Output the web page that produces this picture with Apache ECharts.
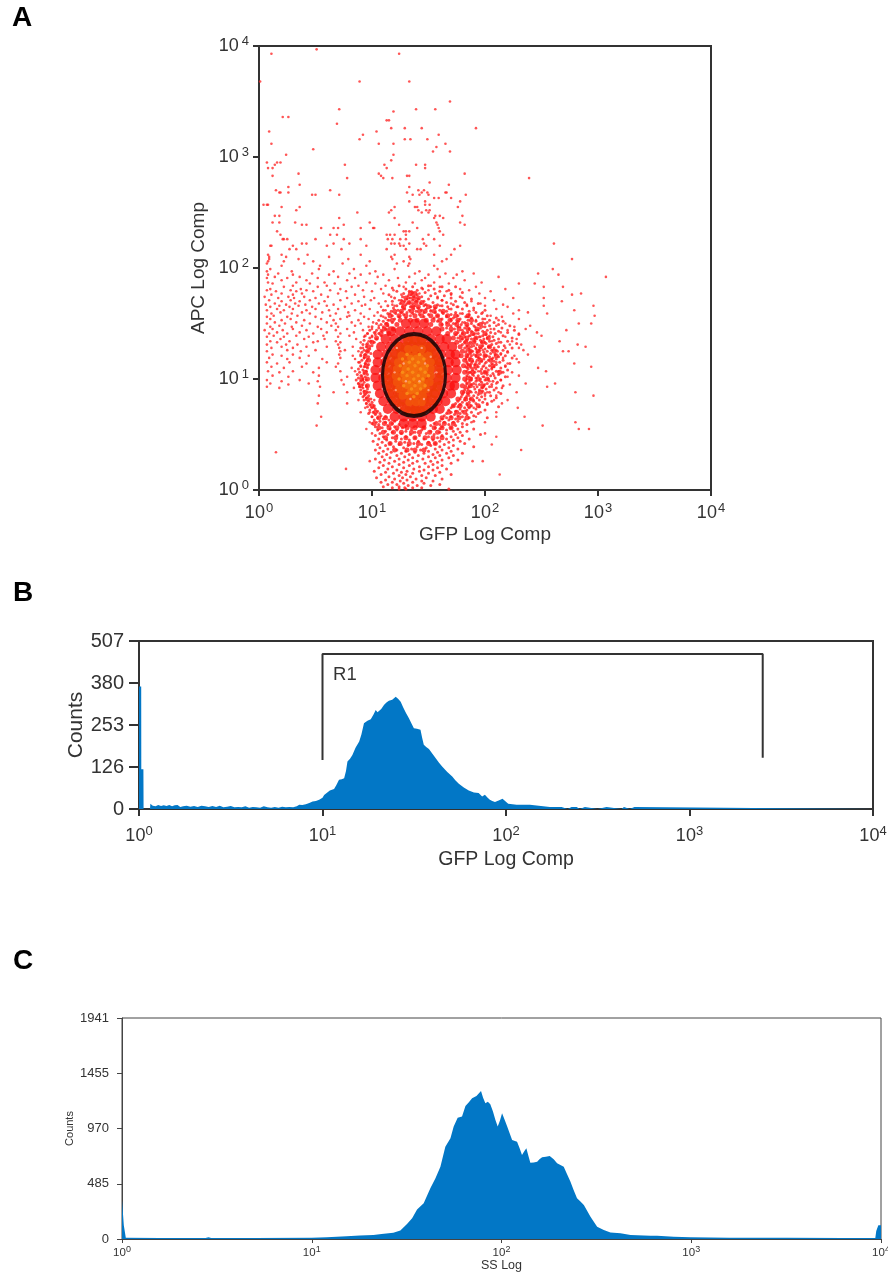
<!DOCTYPE html>
<html>
<head>
<meta charset="utf-8">
<title>Flow cytometry panels</title>
<script src="https://cdn.jsdelivr.net/npm/echarts@6/dist/echarts.min.js"></script>
<style>
  html, body { margin: 0; padding: 0; background: #fff; }
  #chart { width: 888px; height: 1272px; }
</style>
</head>
<body>
<div id="chart"></div>
<script>
// all positions below are in decades (log10 of the value)
const yTicksB = [0, 126, 253, 380, 507];
const yTicksC = [0, 485, 970, 1455, 1941];

// panel A: [APC decade, [GFP decades...]]
const sparseRows = [
  [3.97,[.51]],[3.93,[.11,1.24]],[3.68,[.01,.89,1.33]],[3.5,[1.69]],[3.43,[.71,1.39,1.56]],[3.41,[1.19]],
  [3.36,[.21,.26]],[3.33,[1.13,1.15]],[3.3,[.69]],[3.26,[1.29,1.44,1.17,1.92]],[3.23,[.09,1.04]],
  [3.2,[.92,1.59]],[3.16,[1.29,1.34,.89,1.49]],[3.12,[.11,1.06,1.19,1.65]],[3.09,[1.57]],[3.07,[.48]],
  [3.05,[1.54,1.69]],[3.02,[.24,1.19]],[2.97,[1.17]],[2.95,[.07,.19,.16]],[2.93,[.14,.76,1.47,1.11,1.39]],
  [2.9,[.08,1.47,1.13,.12]],[2.85,[.35,1.06,1.82]],[2.83,[.12,1.31,1.33,1.08]],[2.81,[.78,1.10,1.18,2.39]],
  [2.77,[1.51]],[2.75,[.36,1.68]],[2.73,[.26,1.33]],[2.7,[.15,.63,1.41,1.46]],
  [2.68,[.18,.19,.26,1.31,1.44,1.49,1.65,1.66]],[2.66,[.47,.5,.71,1.36,1.42,1.5,1.83]],[2.63,[1.55,1.59,1.7]],
  [2.6,[1.33,1.47,1.78]],[2.57,[.04,.07,.08,1.47,1.51]],[2.55,[.36,.2,1.2,1.4,1.38,1.76]],
  [2.52,[.33,1.17,1.41,1.51,1.48]],[2.5,[.87,1.15,1.44,1.5]],[2.47,[.18,.14,1.56,1.6,1.8]],
  [2.45,[.71,1.2,1.63,1.55]],[2.41,[.12,.18,.32,.98,1.36,1.57,1.78]],[2.39,[.38,.42,.75,1.24,1.58,1.82]],
  [2.36,[1.01,1.02,.9,.7,.55,.66,1.4,1.59]],[2.33,[1.28,1.3,1.33,1.6,.16]],
  [2.3,[.63,.19,.69,1.2,1.13,1.16,1.3,1.5,1.63]],[2.26,[.21,.22,.25,.5,.75,.9,1.14,1.18,1.25,1.3,1.45,1.55]],
  [2.22,[.38,.42,.66,.8,1.17,1.2,1.24,1.33,1.46,2.61]],[2.2,[.1,.11,.3,.6,.95,1.25,1.28,1.48,1.6,1.78]],
  [2.17,[.27,.33,.73,1.13,1.3,1.4,1.43,1.73]],[2.12,[.08,.2,.43,.9,1.2,1.55,1.7]],
  [2.1,[.09,.24,.62,1.17,1.33]],[2.08,[.09,.35,.79,1.18,1.34,1.66,2.77]],[2.06,[.08,.22,.48,.98,1.28,1.62]],
  [2.04,[.07,.4,.74,1.22,1.33]],[2.02,[.2,.54,.95,1.32,1.55]],[1.99,[.1,.53,.84,1.2,1.58,2.6]],
  [1.97,[.07,.29,.66,1.03,1.42,1.8]],[1.95,[.17,.47,.8,.98,1.38,1.65,1.9,2.47]],[1.94,[.08,.3,.62,.9,1.1,1.5,1.75,2.65]],
  [1.92,[.14,.36,.7,1.05,1.33,1.6,2.12,3.07]],[1.91,[.07,.25,.52,.85,1.23,1.47,1.72]],[1.89,[.2,.42,.78,1.15,1.44,1.82]],
  [1.87,[.08,.33,.58,.95,1.3,1.55,1.97]],[1.86,[.12,.45,.67,1.03,1.38,1.68,2.3,2.44]],[1.84,[.3,.6,.88,1.12,1.52]],
  [1.83,[.22,.52,.82,1.28,1.6,1.92,2.52,2.69]],[1.81,[.1,.37,.72,1.08,1.45,1.78,2.18]],
  [1.8,[.07,.28,.42,.63,.92,1.19,1.5,1.86]],[1.79,[.15,.33,.48,.77,1.0,1.35,1.66,2.05]],
  [1.77,[.2,.38,.7,1.1,1.42,1.95,2.85]],[1.76,[.11,.3,.55,.85,1.26,1.7,2.77]],
  [1.74,[.05,.26,.4,.61,.93,1.17,1.58]],[1.73,[.17,.31,.5,.78,1.02,1.33,1.8,2.0,2.25,2.52]],
  [1.71,[.09,.28,.45,.72,.99,1.24,1.62,2.08]],[1.7,[.2,.36,.58,.88,1.12,1.4,1.88,2.68]],
  [1.68,[.14,.32,.53,.82,1.06,1.31,1.7,1.96]],[1.67,[.06,.24,.41,.66,.94,1.18,1.47,1.84,2.16]],
  [1.66,[.18,.35,.6,.91,1.2,1.6,2.0,2.52,2.96]],[1.65,[.1,.27,.47,.76,1.08,1.36,1.75,2.2]],
  [1.63,[.16,.3,.5,.7,.98,1.28,1.68,2.1]],[1.62,[.07,.22,.42,.62,.85,1.12,1.52,1.9,2.3,2.79]],
  [1.6,[.19,.38,.56,.79,1.05,1.62,1.98,2.38]],[1.59,[.11,.29,.45,.68,.9,1.16,1.78,2.25,2.55]],
  [1.57,[.13,.34,.63,.8,1.02,1.66,2.05,2.97]],[1.56,[.07,.25,.5,.78,.93,1.1,1.85,2.15]],
  [1.54,[.1,.28,.55,.72,.97,1.7,2.0,2.3]],[1.53,[.2,.4,.66,.88,1.14,1.92,2.12]],
  [1.51,[.14,.33,.6,.82,1.01,1.8,2.02]],[1.5,[.07,.23,.45,.68,.9,1.12,1.74,2.18,2.83,2.94]],
  [1.48,[.18,.38,.64,.85,1.06,1.9,2.1,2.4]],[1.47,[.1,.29,.52,.7,.97,1.78,1.98,2.26]],
  [1.45,[.12,.3,.55,.78,1.0,1.86,2.05,2.36]],[1.44,[.05,.21,.42,.68,.92,1.08,1.94,2.2,2.72]],
  [1.42,[.16,.36,.6,.84,1.03,1.85,2.14,2.46]],[1.41,[.09,.25,.48,.72,.96,1.92,2.3]],
  [1.39,[.13,.33,.57,.8,1.0,1.87,2.04,2.5]],[1.38,[.07,.22,.44,.7,.93,1.96,2.18]],
  [1.36,[.19,.4,.58,.86,1.9,2.28]],[1.34,[.1,.27,.52,.68,.97,2.06,2.24,2.66]],
  [1.33,[.16,.48,.72,.9,2.0,2.12]],[1.31,[.07,.24,.34,.7,.95,1.88,2.22,2.32,2.82]],
  [1.29,[.2,.42,.6,.83,2.04,2.44,2.89]],[1.28,[.11,.3,.71,.92,1.92,2.18,2.3]],
  [1.26,[.25,.5,.76,1.98,2.1,2.34]],[1.25,[.07,.37,.72,.88,1.87,2.2,2.69,2.74]],
  [1.22,[.12,.3,.71,.9,1.9,2.14,2.38]],[1.21,[.2,.44,.83,2.02,2.26]],[1.19,[.09,.36,.72,.93,1.94,2.16]],
  [1.18,[.25,.56,.85,1.86,2.06,2.28]],[1.15,[.07,.27,.6,.88,1.92,2.1,2.3]],[1.14,[.16,.42,.7,.94,1.84,2.0,2.2,2.79]],
  [1.11,[.11,.38,.68,.9,1.98,2.18,2.94]],[1.1,[.22,.53,.82,1.84,1.9,2.06,2.47]],[1.07,[.08,.3,.72,.85,1.94,2.12,2.54]],
  [1.06,[.18,.48,1.86,2.02,2.24]],[1.03,[.12,.53,.9,1.9,2.08,2.3]],[1.02,[.26,.78,1.84,1.98,2.2]],
  [.99,[.07,.36,.73,.92,1.88,2.14]],[.98,[.2,.52,1.96,2.04]],[.96,[.1,.44,.88,1.84,2.1,2.36,2.62]],
  [.95,[.26,.75,1.92,2.0,2.22]],[.93,[.07,.54,.95,1.9,2.06,2.55]],[.92,[.18,.84,1.84,1.98,2.15]],
  [.88,[.66,.78,.98,1.88,2.02,2.12,2.28,2.8]],[.85,[.53,.93,1.86,2.0,2.1,2.96]],[.81,[.88,1.02,1.9,2.08,2.2]],
  [.78,[.52,.78,.95,1.84,2.02,2.15]],[.74,[.94,1.02,1.9,2.29]],[.7,[.9,.98,1.96,2.1]],[.66,[.55,1.0,1.92,2.1,2.35]],
  [.61,[.98,1.04,1.88,2.0,2.8]],[.58,[.51,2.51]],[.55,[.95,2.83,2.92]],[.51,[1.0,2.0]],[.48,[2.1]],[.41,[2.06]],
  [.36,[2.32]],[.34,[.15]],[.26,[.98,1.89,1.98]],[.19,[.77]],[.14,[2.13]]
];

// small dots round the gate, too many to see one by one in the middle
const speckRows = [
  [1.84,[1.24,1.5]],[1.83,[1.36,1.62,1.74]],[1.82,[1.18,1.44]],[1.81,[1.3,1.55]],[1.8,[1.4,1.68]],
  [1.79,[1.22,1.33,1.6]],[1.78,[1.36,1.47,1.8]],[1.77,[1.28,1.56,1.7]],[1.76,[1.15,1.4,1.35]],[1.75,[1.32,1.52,1.64]],
  [1.74,[1.27,1.37,1.44,1.78]],[1.73,[1.2,1.34,1.58,1.7]],[1.72,[1.31,1.41,1.5,1.88]],[1.71,[1.36,1.26,1.62]],
  [1.7,[1.18,1.29,1.39,1.46,1.74]],[1.69,[1.33,1.54,1.66,1.82]],[1.68,[1.25,1.36,1.43,1.94]],[1.67,[1.3,1.48,1.58,1.72]],
  [1.66,[1.14,1.22,1.38,1.46,1.62,1.84]],[1.65,[1.27,1.34,1.52,1.67,1.76]],[1.64,[1.19,1.41,1.56,1.9]],
  [1.63,[1.29,1.37,1.48,1.7,1.8]],[1.62,[1.1,1.23,1.33,1.44,1.6,2.0]],[1.61,[1.17,1.39,1.52,1.66,1.86]],
  [1.6,[1.26,1.31,1.46,1.56,1.74,1.92]],[1.59,[1.14,1.21,1.36,1.63,1.8,1.97]],[1.58,[1.28,1.42,1.5,1.7,1.86]],
  [1.57,[1.08,1.18,1.34,1.58,1.76,2.02]],[1.56,[1.24,1.46,1.66,1.83,1.94]],[1.55,[1.12,1.3,1.55,1.72,1.88,2.1]],
  [1.54,[1.2,1.62,1.78,1.98]],[1.53,[1.06,1.15,1.7,1.85,2.04]],[1.52,[1.1,1.58,1.76,1.92,2.16]],
  [1.51,[1.18,1.66,1.82,1.98,2.08]],[1.5,[1.04,1.13,1.72,1.88,2.0]],[1.49,[1.08,1.62,1.79,1.94,2.12]],
  [1.48,[1.14,1.7,1.84,2.04,2.22]],[1.47,[1.0,1.1,1.76,1.91,2.0]],[1.46,[1.06,1.66,1.82,1.96,2.15]],
  [1.45,[1.12,1.73,1.86,2.08]],[1.44,[.98,1.04,1.8,1.92,2.02,2.26]],[1.43,[1.09,1.7,1.88,1.98,2.12]],
  [1.42,[1.02,1.76,1.84,2.05,2.2]],[1.41,[.96,1.06,1.8,1.94,2.09]],[1.4,[1.03,1.74,1.9,2.01,2.3]],
  [1.39,[.94,1.08,1.78,1.86,1.98,2.16]],[1.38,[1.0,1.82,1.95,2.07]],[1.37,[.98,1.76,1.92,2.02,2.24]],
  [1.36,[1.04,1.8,1.88,1.99,2.12]],[1.35,[.93,1.84,1.96,2.08]],[1.34,[.99,1.78,1.91,2.04,2.2]],
  [1.33,[1.02,1.82,1.87,1.97,2.14]],[1.32,[.96,1.86,2.01,2.1,2.28]],[1.31,[.92,1.8,1.93,2.06]],
  [1.3,[1.0,1.84,1.9,1.98,2.17]],[1.29,[.95,1.88,2.03,2.12]],[1.28,[.9,1.82,1.96,2.08,2.24]],
  [1.27,[.98,1.86,1.92,2.0]],[1.26,[.93,1.84,1.95,2.06,2.16]],[1.25,[.96,1.89,2.02,2.11]],
  [1.24,[.91,1.83,1.93,1.99,2.2]],[1.23,[.99,1.87,2.05,2.14]],[1.22,[.94,1.85,1.96,2.09]],
  [1.21,[.9,1.88,1.92,2.0,2.18]],[1.2,[.97,1.84,2.04,2.12]],[1.19,[.93,1.87,1.95,2.07,2.24]],
  [1.18,[.96,1.83,1.99,2.1]],[1.17,[.91,1.86,1.93,2.03,2.16]],[1.16,[.95,1.89,1.97,2.08]],
  [1.15,[.89,1.84,2.01,2.13]],[1.14,[.94,1.88,1.95,2.06,2.22]],[1.13,[.97,1.85,1.91,2.1]],
  [1.12,[.9,1.87,1.99,2.04,2.18]],[1.11,[.93,1.83,1.94,2.08]],[1.1,[.96,1.88,2.01,2.14]],
  [1.09,[.88,1.85,1.92,1.97,2.06]],[1.08,[.92,1.89,2.03,2.2]],[1.07,[.95,1.84,1.96,2.1]],
  [1.06,[.89,1.87,1.91,2.0,2.16]],[1.05,[.93,1.85,1.97,2.07]],[1.04,[.87,.96,1.89,2.02,2.12]],
  [1.03,[.91,1.84,1.94,2.05]],[1.02,[.94,1.86,1.99,2.18]],[1.01,[.88,1.88,1.92,2.09]],
  [1.0,[.92,1.84,1.96,2.03]],[.99,[.86,.95,1.87,2.0,2.14]],[.98,[.9,1.83,1.92,2.07]],
  [.97,[.93,1.86,1.97,2.11]],[.96,[.88,1.84,1.9,2.02]],[.95,[.92,1.88,1.95,2.06]],
  [.94,[.95,1.83,1.99,2.16]],[.93,[.89,1.86,1.93,2.04]],[.92,[.92,1.82,1.97,2.1]],
  [.91,[.96,1.85,1.91,2.01]],[.9,[.9,1.82,1.95,2.08]],[.89,[.93,1.87,1.98]],[.88,[.96,1.81,1.92,2.04]],
  [.87,[.9,1.85,2.0,2.14]],[.86,[.94,1.8,1.94]],[.85,[.97,1.84,1.9,2.05]],[.84,[.92,1.79,1.97]],
  [.83,[.95,1.83,1.93,2.1]],[.82,[.99,1.78,1.87,2.0]],[.81,[.93,1.82,1.95]],[.8,[.97,1.76,1.9,2.06]],
  [.79,[1.0,1.8,1.86,1.98]],[.78,[.95,1.74,1.92]],[.77,[.98,1.78,1.84,2.02]],[.76,[1.02,1.72,1.88]],
  [.75,[.96,1.76,1.95,2.12]],[.74,[1.0,1.7,1.82,1.86]],[.73,[1.03,1.78,1.92]],[.72,[.98,1.68,1.84,2.0]],
  [.71,[1.05,1.74,1.8]],[.7,[1.01,1.7,1.88]],[.69,[.97,1.07,1.66,1.78,1.94]],[.68,[1.03,1.73,1.84]],
  [.67,[1.08,1.64,1.76,1.9]],[.66,[1.0,1.12,1.7,1.8]],[.65,[1.05,1.66,1.86,2.02]],[.64,[1.1,1.62,1.74]],
  [.63,[1.02,1.15,1.68,1.82]],[.62,[1.07,1.2,1.6,1.76,1.9]],[.61,[1.12,1.64,1.72]],[.6,[1.0,1.18,1.55,1.8]],
  [.59,[1.06,1.24,1.6,1.68,1.84]],[.58,[1.14,1.3,1.52,1.74]],[.57,[1.03,1.2,1.4,1.62,1.8]],
  [.56,[1.09,1.27,1.46,1.56,1.7]],[.55,[1.16,1.35,1.6,1.76,1.9]],[.54,[1.05,1.22,1.44,1.66]],
  [.53,[1.12,1.3,1.52,1.72,1.84]],[.52,[1.18,1.38,1.6,1.78]],[.51,[1.07,1.26,1.48,1.66]],
  [.5,[1.14,1.34,1.55,1.74,1.96]],[.49,[1.03,1.22,1.42,1.62,1.8]],[.48,[1.1,1.3,1.5,1.7]],
  [.47,[1.18,1.38,1.58,1.76]],[.46,[1.06,1.26,1.46,1.66,1.86]],[.45,[1.13,1.33,1.54,1.72]],
  [.44,[1.01,1.21,1.41,1.6,1.78]],[.43,[1.09,1.29,1.5,1.68]],[.42,[1.16,1.37,1.56,1.82]],
  [.41,[1.05,1.24,1.44,1.64]],[.4,[1.12,1.32,1.52,1.72]],[.39,[1.19,1.4,1.6,1.9]],[.38,[1.07,1.28,1.48,1.68]],
  [.37,[1.14,1.35,1.56,1.76]],[.36,[1.03,1.22,1.43,1.62]],[.35,[1.1,1.3,1.5,1.7]],[.34,[1.17,1.38,1.58]],
  [.33,[1.06,1.26,1.46,1.66,1.8]],[.32,[1.13,1.33,1.54]],[.31,[1.22,1.41,1.6,1.72]],[.3,[1.09,1.29,1.5]],
  [.29,[1.16,1.36,1.56,1.68]],[.28,[1.03,1.24,1.45]],[.27,[1.11,1.32,1.62,1.76]],[.26,[1.2,1.4,1.52]],
  [.25,[1.07,1.28,1.58]],[.24,[1.15,1.36,1.47,1.7]],[.23,[1.24,1.54]],[.22,[1.1,1.33,1.62]],[.21,[1.18,1.42,1.5]],
  [.2,[1.06,1.28,1.58]],[.19,[1.14,1.37,1.66]],[.18,[1.22,1.46,1.54]],[.17,[1.02,1.31,1.42]],[.16,[1.12,1.26,1.6]],
  [.15,[1.19,1.36,1.5]],[.14,[1.08,1.3,1.7]],[.13,[1.24,1.44,1.56]],[.12,[1.15,1.34]],[.11,[1.04,1.27,1.48]],
  [.1,[1.2,1.39,1.62]],[.09,[1.12,1.31]],[.08,[1.25,1.44,1.54]],[.07,[1.08,1.18,1.36]],[.06,[1.28,1.46]],
  [.05,[1.14,1.22,1.6]],[.04,[1.32,1.4,1.52]],[.03,[1.1,1.24]],[.02,[1.18,1.29,1.36,1.44]],[.01,[1.24,1.3,1.68]]
];

// ragged dense ring round the gate, drawn with a mid size dot
const haloRows = [
  [1.77,[1.34,1.38]],[1.73,[1.3,1.37,1.41]],[1.69,[1.27,1.33,1.39,1.44]],[1.65,[1.28,1.36,1.41,1.5,1.56]],
  [1.61,[1.2,1.26,1.35,1.42,1.47,1.55,1.63]],[1.57,[1.16,1.24,1.3,1.38,1.44,1.52,1.58,1.67,1.74,1.85]],
  [1.53,[1.18,1.25,1.34,1.4,1.48,1.54,1.6,1.69,1.76,1.88]],[1.49,[1.13,1.22,1.52,1.61,1.67,1.75,1.84,1.96]],
  [1.45,[1.11,1.19,1.62,1.7,1.77,1.85,1.93]],[1.41,[1.08,1.15,1.67,1.74,1.81,1.89,2.0]],
  [1.37,[1.04,1.72,1.79,1.84,1.92,2.03]],[1.33,[1.0,1.75,1.83,1.9,1.98]],[1.29,[.97,1.78,1.85,1.96,2.04]],
  [1.25,[.96,1.8,1.87,1.94,2.08]],[1.21,[.94,1.79,1.84,1.93,2.0,2.1]],[1.17,[.97,1.82,1.88,1.96,2.05]],
  [1.12,[.95,1.81,1.86,1.92,2.07]],[1.06,[.94,1.82,1.89,2.0,2.13]],[1.0,[.91,.96,1.82,1.87,1.94,2.02]],
  [.94,[.9,.96,1.8,1.87,1.98]],[.88,[.94,1.8,1.85,1.96]],[.82,[.96,1.76,1.83,1.88]],[.76,[1.0,1.72,1.78,1.86,1.94]],
  [.7,[1.03,1.68,1.75,1.82]],[.65,[1.06,1.12,1.62,1.7,1.77,1.84]],[.6,[1.02,1.11,1.17,1.57,1.64,1.72]],
  [.56,[1.06,1.15,1.22,1.31,1.38,1.46,1.55,1.62,1.7]],[.52,[1.1,1.19,1.26,1.35,1.42,1.51,1.58]],
  [.47,[1.12,1.21,1.3,1.38,1.47,1.54,1.62]],[.42,[1.16,1.25,1.33,1.41,1.5,1.56]],[.36,[1.2,1.31,1.38,1.46]]
];

const denseRows = [
  [1.5,[1.3,1.38,1.46]],[1.43,[1.17,1.25,1.33,1.41,1.49,1.57]],
  [1.36,[1.12,1.2,1.28,1.36,1.44,1.52,1.6,1.66]],[1.29,[1.08,1.16,1.24,1.32,1.4,1.48,1.56,1.64,1.71]],
  [1.22,[1.05,1.13,1.21,1.29,1.37,1.45,1.53,1.61,1.69,1.74]],[1.15,[1.05,1.12,1.2,1.28,1.36,1.44,1.52,1.6,1.68,1.74]],
  [1.08,[1.03,1.11,1.19,1.27,1.35,1.43,1.51,1.59,1.67,1.75]],[1.01,[1.03,1.1,1.18,1.26,1.34,1.42,1.5,1.58,1.66,1.74]],
  [.94,[1.05,1.13,1.21,1.29,1.37,1.45,1.53,1.61,1.69,1.73]],[.87,[1.07,1.15,1.23,1.31,1.39,1.47,1.55,1.63,1.7]],
  [.8,[1.1,1.18,1.26,1.34,1.42,1.5,1.58,1.65]],[.73,[1.14,1.22,1.3,1.38,1.46,1.54,1.6]],
  [.66,[1.2,1.28,1.36,1.44,1.52]],[.6,[1.28,1.36,1.44]]
];

const coreRows = [
  [1.35,[1.32,1.38,1.44]],[1.29,[1.24,1.3,1.36,1.42,1.48,1.52]],[1.23,[1.2,1.26,1.32,1.38,1.44,1.5,1.55]],
  [1.17,[1.17,1.24,1.3,1.36,1.42,1.48,1.54,1.58]],[1.11,[1.15,1.22,1.28,1.34,1.4,1.46,1.52,1.59]],
  [1.05,[1.14,1.21,1.27,1.33,1.39,1.45,1.51,1.6]],[.99,[1.14,1.21,1.27,1.33,1.39,1.45,1.51,1.59]],
  [.93,[1.16,1.23,1.29,1.35,1.41,1.47,1.53,1.58]],[.87,[1.18,1.25,1.31,1.37,1.43,1.49,1.56]],
  [.81,[1.21,1.28,1.34,1.4,1.46,1.53]],[.75,[1.26,1.34,1.4,1.48]],[.71,[1.33,1.39,1.43]]
];

const midRows = [
  [1.27,[1.32,1.38,1.44]],[1.21,[1.26,1.32,1.38,1.44,1.5]],[1.15,[1.23,1.29,1.35,1.41,1.47,1.52]],
  [1.09,[1.22,1.28,1.34,1.4,1.46,1.52]],[1.03,[1.21,1.27,1.33,1.39,1.45,1.52]],[.97,[1.22,1.28,1.34,1.4,1.46,1.51]],
  [.91,[1.24,1.3,1.36,1.42,1.48]],[.85,[1.27,1.33,1.39,1.45]],[.79,[1.33,1.39,1.44]]
];

const centreRows = [
  [1.19,[1.34,1.39,1.43]],[1.14,[1.3,1.35,1.4,1.45]],[1.09,[1.29,1.34,1.39,1.44,1.47]],[1.04,[1.28,1.33,1.38,1.43,1.47]],
  [.99,[1.29,1.34,1.39,1.44]],[.94,[1.31,1.36,1.41,1.45]],[.89,[1.34,1.39]]
];

// brightest counts in the middle of the gate
const hotRows = [
  [1.22,[1.31,1.42]],[1.18,[1.27,1.36,1.46]],[1.15,[1.33,1.41]],[1.12,[1.25,1.38,1.49]],[1.09,[1.32,1.43]],
  [1.06,[1.27,1.36,1.47]],[1.03,[1.31,1.41,1.5]],[1.0,[1.24,1.37,1.45]],[.97,[1.33,1.42]],[.94,[1.28,1.38,1.47]],
  [.91,[1.35,1.43]],[.87,[1.31,1.4]],[.84,[1.37]]
];

// pale dots that show through the core
const paleRows = [
  [1.28,[1.22,1.44]],[1.2,[1.52]],[1.14,[1.28,1.47]],[1.06,[1.2,1.57]],[.98,[1.3,1.42]],[.9,[1.21,1.5]],[.82,[1.46,1.34]],[.74,[1.24]]
];

const gateCentre = [1.372, 1.036];

// panel B histogram, GFP
const binsB = [0,.012,.0125,.024,.025,.06,.062,.075,.09,.105,.12,.135,.15,.165,.18,.195,.21,.225,.24,.26,.28,.3,.32,.34,.36,.38,.4,.42,.44,.46,.48,.5,.52,.54,.56,.58,.6,.62,.64,.66,.68,.7,.72,.74,.76,.78,.8,.82,.84,.86,.873,.89,.909,.928,.946,.964,.982,1,1.009,1.018,1.04,1.063,1.075,1.09,1.105,1.118,1.128,1.136,1.15,1.163,1.18,1.2,1.212,1.226,1.245,1.263,1.278,1.29,1.3,1.308,1.32,1.335,1.35,1.362,1.38,1.39,1.399,1.413,1.426,1.44,1.455,1.471,1.485,1.498,1.515,1.534,1.543,1.552,1.565,1.58,1.6,1.616,1.634,1.652,1.68,1.707,1.725,1.743,1.77,1.797,1.825,1.851,1.87,1.885,1.9,1.912,1.925,1.94,1.96,1.981,1.995,2.012,2.035,2.058,2.13,2.14,2.239,2.257,2.303,2.304,2.336,2.337,2.357,2.358,2.364,2.365,2.385,2.386,2.402,2.403,2.43,2.431,2.499,2.5,2.548,2.549,2.629,2.63,2.643,2.644,2.674,2.675,2.7,2.701,4];
const countsB = [370,370,120,120,0,0,16,10,8,12,9,11,9,12,8,11,12,6,8,10,7,9,6,10,8,6,9,6,10,5,7,9,5,6,5,8,4,6,5,4,8,5,4,6,4,7,5,6,5,8,13,12,14,18,23,24,28,34,42,48,56,60,72,88,90,93,115,143,152,163,185,204,225,259,266,271,285,299,292,289,302,314,322,327,330,335,339,332,324,306,290,274,258,244,242,239,215,194,187,181,166,154,140,128,112,98,86,76,65,56,50,48,38,43,34,28,24,21,26,31,24,16,14,13,13,8,6,6,6,0,0,6,6,0,0,6,6,0,0,6,6,0,0,6,6,0,0,6,6,0,0,6,6,0,0];

// R1 gate outline
const gateBX = [1, 1, 3.399, 3.399];
const gateBY = [148, 468, 468, 155];

// panel C histogram, SS
const binsC = [0,.009,.0095,.019,.02,.2,.44,.456,.47,.7,1,1.079,1.184,1.254,1.325,1.368,1.43,1.467,1.502,1.529,1.555,1.59,1.625,1.652,1.678,1.704,1.731,1.748,1.769,1.792,1.81,1.828,1.845,1.868,1.892,1.903,1.915,1.928,1.941,1.955,1.968,1.98,1.992,2.003,2.016,2.03,2.056,2.082,2.095,2.108,2.12,2.131,2.142,2.152,2.17,2.188,2.2,2.214,2.234,2.254,2.275,2.293,2.328,2.345,2.363,2.38,2.398,2.416,2.434,2.469,2.504,2.539,2.574,2.627,2.68,2.785,2.82,2.908,2.996,3.2,3.5,3.8,3.97,3.975,3.985,3.986,4];
const countsC = [340,340,120,120,12,9,8,15,8,8,12,15,25,30,35,45,55,75,132,182,260,313,445,533,635,811,884,987,1066,1075,1168,1200,1236,1256,1300,1240,1192,1205,1183,1120,1045,987,1040,1104,1050,987,870,855,800,738,770,796,730,670,672,679,700,717,722,729,700,665,635,570,504,430,357,330,299,196,108,79,56,50,35,29,29,20,15,12,10,8,8,70,75,120,120];

const toValue = d => Math.pow(10, d);
const rowsToPoints = rows => rows.flatMap(([dy, xs]) => xs.map(dx => [toValue(dx), toValue(dy)]));
const zipHist = (bins, counts) => bins.map((d, i) => [toValue(d), counts[i]]);

const font = '"Liberation Sans", Arial, sans-serif';
const inkColor = '#333';

// 10 with a superscript power, as the cytometer software prints it
function powerLabel(fontSize, supSize, gap) {
  return {
    color: inkColor,
    fontFamily: font,
    formatter: v => '{b|10}{s|' + Math.round(Math.log10(v)) + '}',
    rich: {
      b: { fontSize: fontSize, fontFamily: font, color: inkColor },
      s: { fontSize: supSize, fontFamily: font, color: inkColor, padding: [0, 0, fontSize * 0.55, gap] }
    }
  };
}

function logAxis(gridIndex, label, name, nameSize, nameGap, lineWidth, tickLen, lineColor, labelMargin) {
  return {
    type: 'log', logBase: 10, min: 1, max: 10000, gridIndex: gridIndex,
    name: name, nameLocation: 'middle', nameGap: nameGap, nameMoveOverlap: false,
    nameTextStyle: { fontSize: nameSize, fontFamily: font, color: inkColor },
    axisLine: { show: true, onZero: false, lineStyle: { color: lineColor, width: lineWidth } },
    axisTick: { show: true, length: tickLen, lineStyle: { color: lineColor, width: lineWidth } },
    axisLabel: Object.assign({ margin: labelMargin, showMinLabel: true, showMaxLabel: true }, label),
    minorTick: { show: false },
    splitLine: { show: false }
  };
}

function countAxis(gridIndex, ticks, fontSize, labelMargin, name, nameSize, nameGap, lineWidth, tickLen, lineColor) {
  return {
    type: 'value', gridIndex: gridIndex, min: 0, max: ticks[ticks.length - 1],
    name: name, nameLocation: 'middle', nameGap: nameGap, nameMoveOverlap: false,
    nameTextStyle: { fontSize: nameSize, fontFamily: font, color: inkColor },
    axisLine: { show: true, lineStyle: { color: lineColor, width: lineWidth } },
    axisTick: { show: true, length: tickLen, customValues: ticks, lineStyle: { color: lineColor, width: lineWidth } },
    axisLabel: { customValues: ticks, formatter: v => String(v), fontSize: fontSize, fontFamily: font, color: inkColor, margin: labelMargin },
    splitLine: { show: false }
  };
}

function dots(rows, size, color, z) {
  return {
    type: 'scatter', xAxisIndex: 0, yAxisIndex: 0, data: rowsToPoints(rows),
    symbol: 'circle', symbolSize: size, itemStyle: { color: color }, z: z, silent: true
  };
}

function hist(axis, points) {
  return {
    type: 'line', xAxisIndex: axis, yAxisIndex: axis, data: points,
    showSymbol: false, symbol: 'none', lineStyle: { width: 0 },
    areaStyle: { color: '#0277c6', opacity: 1 }, z: 1, silent: true
  };
}

const panelLetter = (text, x, y) => ({
  type: 'text', left: x, top: y,
  style: { text: text, fontSize: 28, fontWeight: 'bold', fontFamily: font, fill: '#000' }
});

const chart = echarts.init(document.getElementById('chart'), null, { renderer: 'canvas' });

chart.setOption({
  animation: false,
  backgroundColor: '#fff',
  graphic: [panelLetter('A', 12, 4), panelLetter('B', 13, 579), panelLetter('C', 13, 947)],
  grid: [
    { left: 259, top: 46, width: 452, height: 444, show: true, borderColor: '#333', borderWidth: 2, backgroundColor: 'transparent', outerBoundsMode: 'none' },
    { left: 139, top: 641, width: 734, height: 168, show: true, borderColor: '#333', borderWidth: 2, backgroundColor: 'transparent', outerBoundsMode: 'none' },
    { left: 122, top: 1018, width: 759, height: 221, show: true, borderColor: '#444', borderWidth: 1, backgroundColor: 'transparent', outerBoundsMode: 'none' }
  ],
  xAxis: [
    logAxis(0, powerLabel(18, 13, 1), 'GFP Log Comp', 19, 35, 2, 6, '#333', 12),
    logAxis(1, powerLabel(18, 13, 0), 'GFP Log Comp', 19.5, 41, 2, 7, '#333', 16),
    logAxis(2, powerLabel(11.5, 9, 0), 'SS Log', 12.5, 20, 1, 4, '#444', 6)
  ],
  yAxis: [
    logAxis(0, powerLabel(18, 13, 3), 'APC Log Comp', 19, 51, 2, 6, '#333', 10),
    countAxis(1, yTicksB, 20, 15, 'Counts', 21, 52, 2, 10, '#333'),
    countAxis(2, yTicksC, 13, 13, 'Counts', 11, 47, 1, 5, '#444')
  ],
  series: [
    dots(sparseRows, 2.6, '#ff2a2a', 3),
    dots(speckRows, 3, '#ff1f1f', 4),
    dots(haloRows, 5, '#ff1c1c', 4),
    dots(denseRows, 10, '#fb0f0f', 5),
    dots(coreRows, 10, '#ee3a08', 6),
    dots(midRows, 8, '#f2560b', 6),
    dots(centreRows, 6.5, '#f4700d', 7),
    dots(hotRows, 3.5, '#f9961a', 7),
    dots(paleRows, 2.4, '#ffb09a', 7),
    {
      // black gate drawn round the main population
      type: 'scatter', xAxisIndex: 0, yAxisIndex: 0,
      data: [gateCentre.map(toValue)],
      symbol: 'circle', symbolSize: [63, 82],
      itemStyle: { color: 'transparent', borderColor: '#000', borderWidth: 3.5 },
      z: 8, silent: true
    },
    hist(1, zipHist(binsB, countsB)),
    {
      type: 'line', xAxisIndex: 1, yAxisIndex: 1,
      data: gateBX.map((d, i) => [toValue(d), gateBY[i]]),
      symbol: 'none', lineStyle: { color: '#333', width: 2 }, z: 5, silent: true
    },
    {
      type: 'scatter', xAxisIndex: 1, yAxisIndex: 1,
      data: [[toValue(1.122), 405]], symbolSize: 1,
      itemStyle: { color: 'transparent' },
      label: { show: true, position: 'inside', formatter: 'R1', fontSize: 18.5, fontFamily: font, color: '#000' },
      z: 6, silent: true
    },
    hist(2, zipHist(binsC, countsC))
  ]
});
</script>
</body>
</html>
